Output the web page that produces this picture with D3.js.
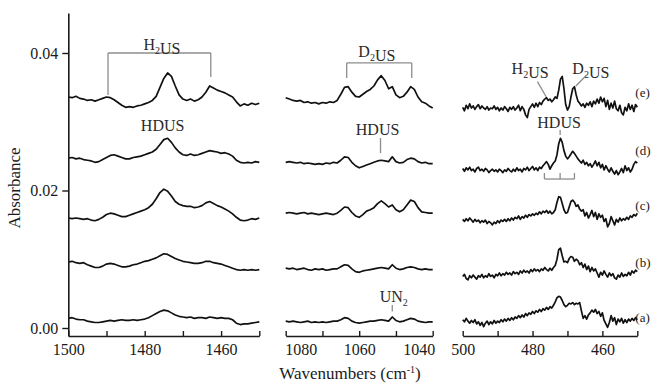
<!DOCTYPE html>
<html><head><meta charset="utf-8">
<script src="https://cdn.jsdelivr.net/npm/d3@7"></script>
<style>
body{margin:0;background:#fff}
svg{display:block}
text{font-family:"Liberation Serif","Times New Roman",serif}
</style>
</head><body>
<svg id="chart" width="654" height="383"></svg>
<script>
// ---- data (absorbance in units of 1e-4) ----
const UNIT = 1e-4;
const seriesNames = ["(a)", "(b)", "(c)", "(d)", "(e)"];

// Panel 1: 1500 -> 1450 cm-1, step 1
const panel1Start = 1500, panel1Step = -1;
const panel1_a = [14,15,13,12,12,10,9,8,8,9, 10,11,10,11,12,11,11,12,11,12, 13,15,18,21,24,26,25,22,19,17, 16,15,16,14,15,15,14,16,15,14, 15,14,14,12,7,5,6,6,7,8, 9];
const panel1_b = [96,97,95,94,95,92,90,88,88,90, 93,94,93,91,89,89,90,92,93,95, 97,98,100,102,105,108,107,104,101,99, 97,96,95,94,94,95,97,97,95,94, 93,91,89,87,85,84,85,84,85,84, 85];
const panel1_c = [160,159,160,159,158,159,157,156,158,161, 165,167,166,164,162,162,164,166,168,170, 172,175,180,188,197,202,199,192,184,180, 178,177,177,175,176,178,182,184,181,178, 176,173,170,166,161,157,156,157,159,158, 160];
const panel1_d = [247,248,246,247,245,244,243,241,242,245, 248,251,252,250,248,246,246,248,249,250, 252,254,256,260,267,274,276,270,262,256, 252,251,253,251,252,254,256,258,257,256, 254,255,253,250,244,241,240,241,240,242, 241];
const panel1_e = [336,335,337,334,333,331,332,330,332,334, 336,335,332,328,324,321,322,321,323,324, 326,328,331,337,350,363,371,366,352,339, 333,331,333,330,332,336,343,352,349,346, 344,342,339,336,329,323,326,324,327,325, 327];

// Panel 2: 1080 -> 1040 cm-1, step 1
const panel2Start = 1080, panel2Step = -1;
const panel2_a = [10,9,10,9,8,9,10,8,9,8, 9,8,9,10,10,12,15,14,10,8, 7,8,9,10,10,11,12,11,10,16, 11,9,10,12,14,13,10,9,8,9, 9];
const panel2_b = [87,86,87,85,86,87,85,84,86,85, 86,84,85,86,86,89,92,91,86,82, 81,83,84,85,86,87,88,87,86,92, 87,85,86,88,89,88,86,85,86,85, 85];
const panel2_c = [167,168,167,166,167,168,166,167,166,165, 166,167,166,165,167,171,176,175,168,163, 161,165,170,172,175,181,185,181,176,179, 172,169,172,179,186,184,175,169,168,167, 167];
const panel2_d = [241,242,241,240,241,239,240,239,238,239, 238,240,239,241,240,244,249,248,241,236, 233,235,237,239,241,243,244,243,242,249, 242,240,241,245,247,246,242,240,241,239, 239];
const panel2_e = [335,333,331,330,331,328,329,327,328,326, 328,327,329,328,331,340,350,351,343,337, 336,340,344,347,352,361,367,360,348,351, 339,335,337,343,351,347,336,329,327,323, 320];

// Panel 3: 500 -> 450 cm-1, step 0.5
const panel3Start = 500, panel3Step = -0.5;
const panel3_a = [12,9,14,10,7,11,8,12,6,9, 4,8,2,7,10,5,9,6,11,7, 10,8,12,9,13,10,14,11,15,12, 16,14,18,15,19,16,21,18,22,20, 24,21,25,23,27,24,28,26,30,27, 31,29,33,38,44,46,45,40,34,31, 33,36,35,37,34,36,35,37,25,14, 18,13,19,22,26,23,27,21,24,17, 22,11,6,1,8,18,10,15,5,13, 9,14,7,12,8,13,10,14,11,15, 12];
const panel3_b = [75,78,72,70,76,73,77,74,71,76, 74,78,73,76,74,79,75,77,73,78, 76,80,76,79,77,81,78,80,77,82, 79,81,78,83,80,84,81,83,80,85, 82,86,83,85,82,86,84,88,85,83, 87,84,88,91,100,114,116,105,96,97, 95,101,104,103,97,100,98,92,95,88, 93,85,90,82,88,83,86,80,74,81, 77,83,78,74,80,76,79,73,71,77, 74,80,75,78,76,81,77,83,80,84, 82];
const panel3_c = [158,155,159,156,160,157,154,158,155,157, 153,156,154,157,152,155,153,150,154,152, 156,153,157,155,158,155,159,156,160,157, 161,159,163,158,162,160,164,161,165,163, 166,164,167,165,169,166,170,168,171,167, 170,166,168,172,183,191,190,181,172,167, 168,176,184,186,183,177,179,173,170,172, 163,168,160,165,171,162,168,158,166,161, 164,155,159,147,152,162,156,150,158,154, 160,156,159,157,161,158,163,161,165,163, 167];
const panel3_d = [232,228,233,230,234,229,231,227,232,234, 229,231,228,232,230,226,229,231,228,230, 227,231,229,226,230,228,232,229,227,231, 228,233,229,231,227,232,230,234,229,232, 235,230,233,229,234,232,236,239,242,238, 231,236,240,243,252,268,276,270,258,250, 246,249,253,257,254,250,246,243,240,244, 238,241,236,239,234,238,243,236,241,233, 238,230,236,231,227,233,228,224,229,223, 227,232,226,236,229,233,227,231,238,242, 240];
const panel3_e = [321,316,324,319,326,320,323,318,322,325, 319,323,320,318,322,317,320,319,323,318, 321,316,320,317,322,319,315,321,318,322, 317,320,324,316,322,318,310,306,318,322, 326,321,327,322,328,325,330,333,335,331, 333,329,332,336,334,346,362,366,348,325, 317,322,336,348,351,339,330,327,323,326, 321,327,324,329,322,330,326,333,327,336, 329,334,322,331,318,327,320,330,319,316, 324,313,310,321,316,326,318,324,315,325, 321];

// axes
const panel1Domain = [1500, 1450], panel1Ticks = [1500,1490,1480,1470,1460,1450], panel1TickLabels = ["1500","","1480","","1460",""];
const panel2Domain = [1080, 1040], panel2Ticks = [1080,1070,1060,1050,1040], panel2TickLabels = ["1080","","1060","","1040"];
const panel3Domain = [500, 450], panel3Ticks = [500,490,480,470,460,450], panel3TickLabels = ["500","","480","","460",""];
const yTicks = [0, 0.02, 0.04];
const seriesLabelLevels = [0.0009, 0.0089, 0.0172, 0.0252, 0.0336];

// ---- drawing ----
const svg = d3.select("#chart");
const plotTop = 13, axisY = 336;
const y = d3.scaleLinear().domain([0, 0.04]).range([328, 53]);
const yAxisScale = d3.scaleLinear().domain([y.invert(axisY), y.invert(plotTop)]).range([axisY, plotTop]);

const panels = [
  {domain: panel1Domain, range: [68.3, 259.3], start: panel1Start, step: panel1Step, series: [panel1_a,panel1_b,panel1_c,panel1_d,panel1_e], ticks: panel1Ticks, labels: panel1TickLabels},
  {domain: panel2Domain, range: [285.7, 432.7], start: panel2Start, step: panel2Step, series: [panel2_a,panel2_b,panel2_c,panel2_d,panel2_e], ticks: panel2Ticks, labels: panel2TickLabels, endAnchors: true},
  {domain: panel3Domain, range: [462.7, 637.3], start: panel3Start, step: panel3Step, series: [panel3_a,panel3_b,panel3_c,panel3_d,panel3_e], ticks: panel3Ticks, labels: panel3TickLabels}
];

const ink = "#1a1a1a";
panels.forEach(p => {
  p.x = d3.scaleLinear().domain(p.domain).range(p.range);
  const line = d3.line().x((d, i) => p.x(p.start + i * p.step)).y(d => y(d * UNIT));
  p.series.forEach(s => {
    svg.append("path").attr("d", line(s)).attr("fill", "none")
      .attr("stroke", "#111").attr("stroke-width", 1.7).attr("stroke-linejoin", "round");
  });
  const ax = d3.axisBottom(p.x).tickValues(p.ticks).tickSize(-5).tickSizeOuter(0)
    .tickPadding(8).tickFormat((d, i) => p.labels[i]);
  const g = svg.append("g").attr("transform", `translate(0,${axisY})`).call(ax);
  g.select(".domain").attr("stroke", ink).attr("stroke-width", 1.6);
  g.selectAll(".tick line").attr("stroke", ink).attr("stroke-width", 1.4);
  g.selectAll(".tick text").attr("font-size", 16).attr("fill", ink)
    .attr("font-family", "'Liberation Serif', serif");
  if (p.endAnchors) {
    g.selectAll(".tick text").attr("text-anchor", (d, i) => i === 0 ? "start" : (i === p.ticks.length - 1 ? "end" : "middle"))
      .attr("dx", (d, i) => i === 0 ? -1 : (i === p.ticks.length - 1 ? 2 : 0));
  }
});

// y axis
const yAx = d3.axisLeft(yAxisScale).tickValues(yTicks).tickSize(6).tickSizeOuter(0)
  .tickPadding(4).tickFormat(d3.format(".2f"));
const gy = svg.append("g").attr("transform", "translate(68.3,0)").call(yAx);
gy.select(".domain").attr("stroke", ink).attr("stroke-width", 1.6);
gy.selectAll(".tick line").attr("stroke", ink).attr("stroke-width", 1.4);
gy.selectAll(".tick text").attr("font-size", 16).attr("fill", ink).attr("font-family", "'Liberation Serif', serif");

// axis titles
svg.append("text").attr("transform", "translate(20,188) rotate(-90)").attr("text-anchor", "middle")
  .attr("font-size", 17).attr("fill", ink).text("Absorbance");
const xt = svg.append("text").attr("x", 350).attr("y", 379).attr("text-anchor", "middle")
  .attr("font-size", 17).attr("fill", ink);
xt.append("tspan").text("Wavenumbers (cm");
xt.append("tspan").attr("dy", -6).attr("font-size", 10).text("-1");
xt.append("tspan").attr("dy", 6).text(")");

// series labels
const p3 = panels[2];
seriesNames.forEach((n, i) => {
  svg.append("text").attr("x", p3.x(450) - 2).attr("y", y(seriesLabelLevels[i]))
    .attr("font-size", 13).attr("fill", ink).text(n);
});

// annotations
const annoInk = "#2a2a2a", bracketInk = "#8c8c8c";
function label(px, xv, yv, parts, size) {
  const t = svg.append("text").attr("x", px(xv)).attr("y", y(yv)).attr("text-anchor", "middle")
    .attr("font-size", size || 16).attr("fill", annoInk);
  parts.forEach(pt => {
    if (pt.sub) {
      t.append("tspan").attr("dy", 4).attr("font-size", 10).text(pt.t);
      t.append("tspan").attr("dy", -4).text("");
    } else t.append("tspan").text(pt.t);
  });
}
function seg(px, x1, y1, x2, y2) {
  svg.append("line").attr("x1", px(x1)).attr("y1", y(y1)).attr("x2", px(x2)).attr("y2", y(y2))
    .attr("stroke", bracketInk).attr("stroke-width", 1.3);
}
const H2US = [{t:"H"},{t:"2",sub:true},{t:"US"}];
const D2US = [{t:"D"},{t:"2",sub:true},{t:"US"}];
const HDUS = [{t:"HDUS"}];
const UN2 = [{t:"UN"},{t:"2",sub:true}];

const x1 = panels[0].x, x2 = panels[1].x, x3 = panels[2].x;
// panel 1
seg(x1, 1489.6, 0.0400, 1462.7, 0.0400);
seg(x1, 1489.6, 0.0400, 1489.6, 0.0339);
seg(x1, 1462.7, 0.0400, 1462.7, 0.0365);
label(x1, 1475.5, 0.0405, H2US);
label(x1, 1475.3, 0.0286, HDUS);
// panel 2
seg(x2, 1063.4, 0.03855, 1045.7, 0.03855);
seg(x2, 1063.4, 0.03855, 1063.4, 0.03636);
seg(x2, 1045.7, 0.03855, 1045.7, 0.03636);
label(x2, 1055.2, 0.0394, D2US);
label(x2, 1055.0, 0.0281, HDUS);
seg(x2, 1054.2, 0.02764, 1054.2, 0.02545);
label(x2, 1050.6, 0.00378, UN2);
seg(x2, 1051, 0.00335, 1051, 0.00240);
// panel 3
label(x3, 480.7, 0.03695, H2US);
seg(x3, 478.6, 0.03583, 476.1, 0.03364);
label(x3, 463.3, 0.03695, D2US);
seg(x3, 464.5, 0.0368, 467.6, 0.0352);
label(x3, 472.4, 0.0291, HDUS);
seg(x3, 472.1, 0.0288, 472.1, 0.02807);
seg(x3, 476.6, 0.02167, 468.0, 0.02167);
seg(x3, 476.6, 0.02167, 476.6, 0.02255);
seg(x3, 472.1, 0.02167, 472.1, 0.02255);
seg(x3, 468.0, 0.02167, 468.0, 0.02255);
</script>
</body></html>
